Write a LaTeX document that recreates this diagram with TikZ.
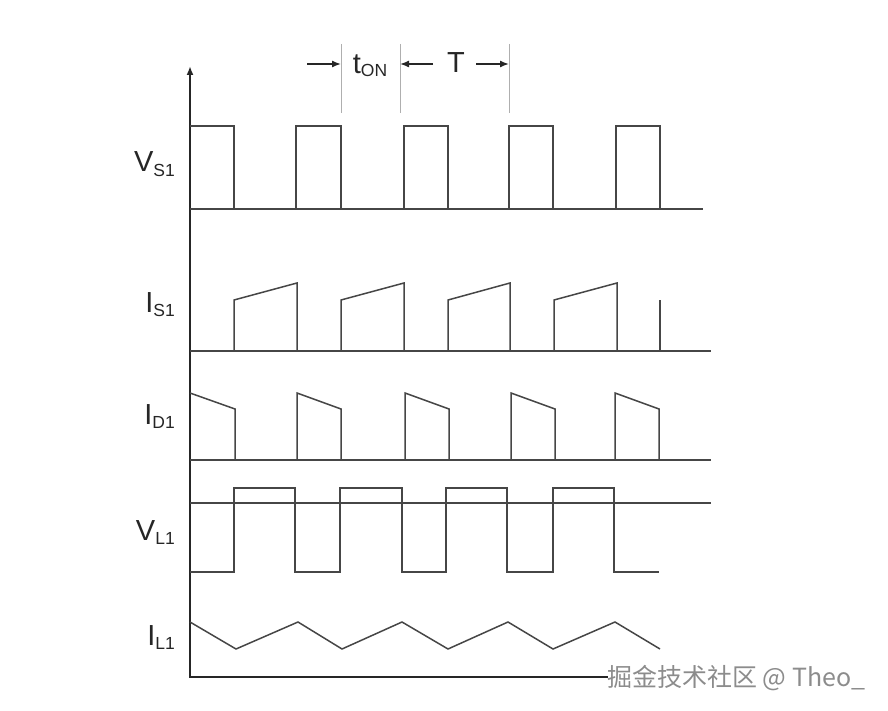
\documentclass[tikz,border=0pt]{standalone}
\usepackage{fontspec}
\setmainfont{Liberation Sans}
\newfontfamily\cjk{Noto Sans CJK SC}
\usetikzlibrary{arrows.meta}

\definecolor{wavegray}{RGB}{70,70,70}
\definecolor{dimgray}{RGB}{175,175,175}

% signal name with lowered subscript
\newcommand{\sig}[2]{#1\raisebox{-4.5pt}{\fontsize{17.5}{19}\selectfont #2}}

\tikzset{
  wave/.style={line width=1.5pt, wavegray, line join=miter},
  axisline/.style={line width=2pt, black!85},
  dimline/.style={line width=0.8pt, dimgray},
  dimarrow/.style={line width=1.4pt, black!85, -{Latex[length=9pt,width=7pt]}},
  siglabel/.style={anchor=base east, inner sep=0pt, text=black!85, font=\fontsize{29}{32}\selectfont}
}

\begin{document}
\begin{tikzpicture}[x=1pt,y=-1pt]

	\useasboundingbox (0,0) rectangle (888,711);

	% axes
	\draw[axisline, -{Latex[length=9pt,width=7pt]}] (608,677) -- (190,677) -- (190,66);

	% timing marks
	\draw[dimline] (341,44) -- (341,113);
	\draw[dimline] (400,44) -- (400,113);
	\draw[dimline] (509,44) -- (509,113);
	\coordinate (ton)  at (341,64);
	\coordinate (tper) at (400,64);
	\coordinate (tend) at (509,64);
	\coordinate (a1) at (307,64);
	\coordinate (a2) at (433,64);
	\coordinate (a3) at (476,64);
	\draw[dimarrow] (a1) -- (ton);
	\draw[dimarrow] (a2) -- (tper);
	\draw[dimarrow] (a3) -- (tend);
	\node[siglabel, anchor=base] (lton) at (370,74) {t\raisebox{-3pt}{\fontsize{17.5}{19}\selectfont ON}};
	\node[siglabel, anchor=base] (lT) at (456,73) {T};

	% V_S1
	\node[siglabel] (lvs) at (175,172) {\sig{V}{S1}};
	\draw[wave] (190,209) -- (703,209);
	\draw[wave] (190,126) -- (234,126) -- (234,209);
	\foreach \a/\b in {296/341,404/448,509/553,616/660}
		\draw[wave] (\a,209) -- (\a,126) -- (\b,126) -- (\b,209);

	% I_S1
	\node[siglabel] (lis) at (175,312) {\sig{I}{S1}};
	\draw[wave] (190,351) -- (711,351);
	\foreach \a/\b in {234/297,341/404,448/510,554/617}
		\draw[wave] (\a,351) -- (\a,300) -- (\b,283) -- (\b,351);
	\draw[wave] (660,351) -- (660,300);

	% I_D1
	\node[siglabel] (lid) at (175,424) {\sig{I}{D1}};
	\draw[wave] (190,460) -- (711,460);
	\draw[wave] (190,393) -- (235,409) -- (235,460);
	\foreach \a/\b in {297/341,405/449,511/555,615/659}
		\draw[wave] (\a,460) -- (\a,393) -- (\b,409) -- (\b,460);

	% V_L1
	\node[siglabel] (lvl) at (175,540) {\sig{V}{L1}};
	\draw[wave] (190,503) -- (711,503);
	\draw[wave] (190,572) -- (234,572) -- (234,488) -- (295,488) -- (295,572)
		-- (340,572) -- (340,488) -- (402,488) -- (402,572)
		-- (446,572) -- (446,488) -- (507,488) -- (507,572)
		-- (553,572) -- (553,488) -- (614,488) -- (614,572) -- (659,572);

	% I_L1
	\node[siglabel] (lil) at (175,645) {\sig{I}{L1}};
	\draw[wave] (190,622) -- (236,649) -- (298,622) -- (342,649) -- (402,622)
		-- (448,649) -- (508,622) -- (553,649) -- (615,622) -- (660,649);

	% watermark
	\node[anchor=west, inner sep=0pt, text=black!45, font=\cjk\fontsize{25}{27}\selectfont] (mark) at (607,678) {掘金技术社区 @ Theo\_};

\end{tikzpicture}
\end{document}
